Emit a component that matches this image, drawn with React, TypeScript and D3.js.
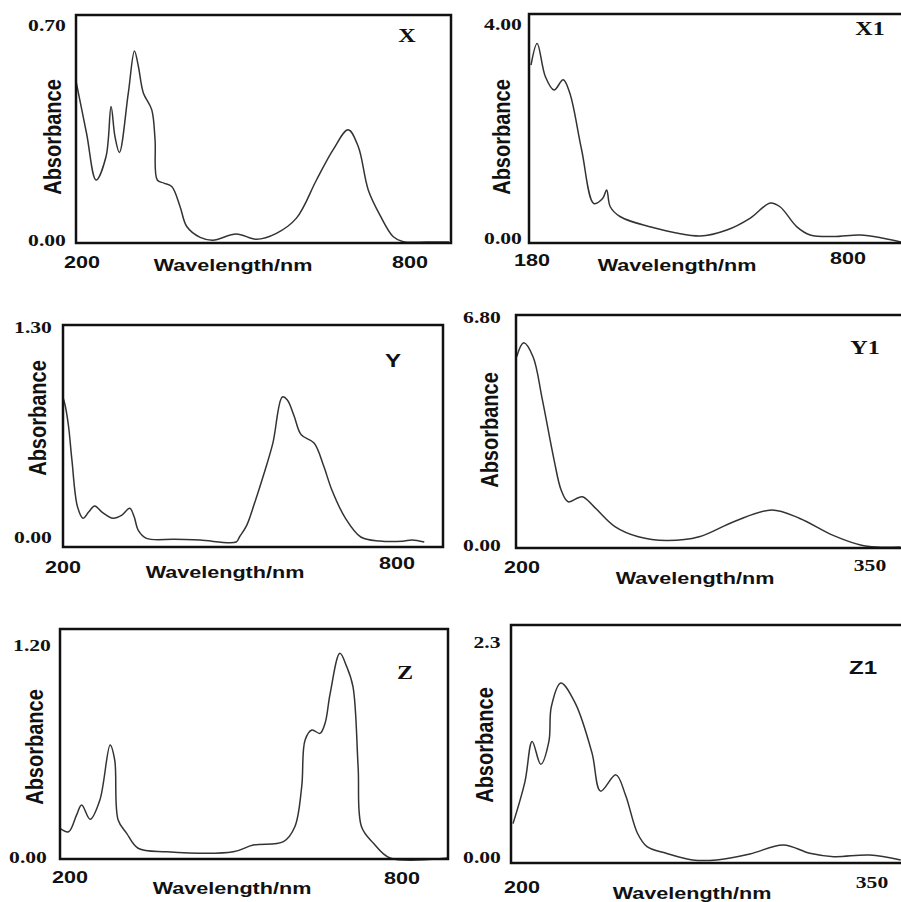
import React, { useEffect } from "react";
import * as d3 from "d3";

// ---------- data (wavelength in nm, absorbance) ----------
const xNm = [200, 219, 236, 254, 263, 270, 278, 294, 305, 312, 321, 336, 342, 346, 358, 372, 387, 399, 423, 446, 488, 524, 560, 596, 632, 662, 689, 707, 725, 746, 770, 788, 830, 870];
const xAbs = [0.519, 0.35, 0.2, 0.276, 0.437, 0.34, 0.289, 0.481, 0.616, 0.567, 0.481, 0.427, 0.33, 0.2, 0.19, 0.179, 0.114, 0.05, 0.015, 0.006, 0.026, 0.009, 0.028, 0.077, 0.2, 0.298, 0.362, 0.308, 0.168, 0.087, 0.017, 0.001, 0, 0];

const x1Nm = [180, 192, 208, 225, 243, 256, 279, 303, 320, 328, 335, 354, 413, 511, 563, 609, 648, 667, 700, 726, 772, 824, 869, 904];
const x1Abs = [3.26, 3.66, 3.05, 2.8, 2.99, 2.74, 1.7, 0.71, 0.8, 0.96, 0.65, 0.47, 0.28, 0.11, 0.22, 0.44, 0.72, 0.65, 0.28, 0.13, 0.1, 0.13, 0.07, 0.0];

const yNm = [200, 204, 210, 216, 226, 236, 246, 257, 270, 290, 305, 320, 328, 335, 350, 400, 446, 511, 517, 530, 544, 560, 577, 594, 603, 615, 628, 651, 668, 683, 707, 735, 769, 810, 827, 849];
const yAbs = [0.87, 0.82, 0.695, 0.494, 0.213, 0.143, 0.18, 0.217, 0.18, 0.143, 0.16, 0.203, 0.15, 0.072, 0.022, 0.016, 0.012, 0.0, 0.03, 0.1, 0.233, 0.4, 0.595, 0.873, 0.855, 0.76, 0.645, 0.596, 0.46, 0.313, 0.145, 0.03, 0.006, 0.005, 0.012, 0.0];

const y1Nm = [199, 202, 206, 210, 215, 218, 221, 227, 232, 241, 251, 263, 277, 292, 308, 320, 334, 346, 353, 363];
const y1Abs = [5.6, 6.01, 5.6, 4.33, 2.56, 1.68, 1.33, 1.48, 1.19, 0.6, 0.3, 0.19, 0.3, 0.75, 1.09, 0.84, 0.35, 0.06, 0, 0];

const zNm = [200, 215, 229, 238, 253, 270, 288, 296, 302, 317, 337, 387, 504, 539, 592, 612, 624, 630, 642, 656, 665, 674, 691, 703, 714, 723, 729, 750, 779, 881];
const zAbs = [0.167, 0.148, 0.242, 0.299, 0.218, 0.327, 0.637, 0.552, 0.214, 0.139, 0.055, 0.035, 0.035, 0.073, 0.092, 0.176, 0.4, 0.665, 0.721, 0.702, 0.759, 0.928, 1.153, 1.078, 0.965, 0.514, 0.176, 0.083, 0, 0];

const z1Nm = [200, 205, 208, 211.6, 215, 216, 220, 226, 233, 236.6, 243, 247, 252, 256, 264, 275, 285, 299, 313, 324, 334, 349, 362];
const z1Abs = [0.38, 0.82, 1.24, 1.0, 1.24, 1.6, 1.85, 1.64, 1.12, 0.72, 0.89, 0.68, 0.28, 0.14, 0.07, 0.0, 0.0, 0.063, 0.157, 0.07, 0.035, 0.052, 0.0];

// tick labels
const xTickLabels = ["200", "800"];
const x1TickLabels = ["180", "800"];
const yTickLabels = ["200", "800"];
const y1TickLabels = ["200", "350"];
const zTickLabels = ["200", "800"];
const z1TickLabels = ["200", "350"];
const xYTicks = ["0.00", "0.70"];
const x1YTicks = ["0.00", "4.00"];
const yYTicks = ["0.00", "1.30"];
const y1YTicks = ["0.00", "6.80"];
const zYTicks = ["0.00", "1.20"];
const z1YTicks = ["0.00", "2.3"];
const panelNames = ["X", "X1", "Y", "Y1", "Z", "Z1"];

const SANS = "'Liberation Sans', Arial, sans-serif";
const SERIF = "'Liberation Serif', 'Times New Roman', serif";
const SX = 1.27;

type Panel = {
  name: string;
  nameFont: string;
  nm: number[];
  abs: number[];
  xTicks: string[];
  yTicks: string[];
  xTickFonts: string[];
  frame: [number, number, number, number]; // left, top, right, bottom
  xDom: [number, number];
  xRange: [number, number];
  yDom: [number, number];
  yRange: [number, number];
  xTickPos: [number, number][]; // label centres
  yTickPos: [number, number][];
  namePos: [number, number];
  wlPos: [number, number];
  absPos: [number, number];
};

const panels: Panel[] = [
  {
    name: panelNames[0], nameFont: SERIF, nm: xNm, abs: xAbs, xTicks: xTickLabels, yTicks: xYTicks,
    xTickFonts: [SANS, SANS],
    frame: [76, 15, 451, 243], xDom: [200, 800], xRange: [76, 410], yDom: [0, 0.7], yRange: [242, 25],
    xTickPos: [[82, 262], [410, 262]], yTickPos: [[47, 240], [47, 25]], namePos: [407, 36],
    wlPos: [233, 265], absPos: [53, 137],
  },
  {
    name: panelNames[1], nameFont: SERIF, nm: x1Nm, abs: x1Abs, xTicks: x1TickLabels, yTicks: x1YTicks,
    xTickFonts: [SANS, SANS],
    frame: [529, 14, 906, 243], xDom: [180, 800], xRange: [531, 848], yDom: [0, 4], yRange: [242, 25],
    xTickPos: [[532, 260], [848, 258]], yTickPos: [[503, 238], [503, 24]], namePos: [870, 29],
    wlPos: [677, 265], absPos: [502, 137],
  },
  {
    name: panelNames[2], nameFont: SANS, nm: yNm, abs: yAbs, xTicks: yTickLabels, yTicks: yYTicks,
    xTickFonts: [SANS, SANS],
    frame: [63, 325, 443, 547], xDom: [200, 800], xRange: [63, 397], yDom: [0, 1.3], yRange: [542, 326],
    xTickPos: [[63, 567], [397, 563]], yTickPos: [[33, 537], [33, 327]], namePos: [393, 360],
    wlPos: [225, 572], absPos: [38, 418],
  },
  {
    name: panelNames[3], nameFont: SERIF, nm: y1Nm, abs: y1Abs, xTicks: y1TickLabels, yTicks: y1YTicks,
    xTickFonts: [SANS, SERIF],
    frame: [516, 315, 906, 548], xDom: [200, 350], xRange: [519, 870], yDom: [0, 6.8], yRange: [547, 316],
    xTickPos: [[522, 567], [870, 565]], yTickPos: [[482, 545], [482, 317]], namePos: [865, 348],
    wlPos: [695, 578], absPos: [490, 430],
  },
  {
    name: panelNames[4], nameFont: SERIF, nm: zNm, abs: zAbs, xTicks: zTickLabels, yTicks: zYTicks,
    xTickFonts: [SANS, SANS],
    frame: [60, 629, 448, 859], xDom: [200, 800], xRange: [60, 402], yDom: [0, 1.2], yRange: [858, 645],
    xTickPos: [[70, 877], [402, 878]], yTickPos: [[28, 857], [32, 645]], namePos: [405, 673],
    wlPos: [232, 888], absPos: [35, 747],
  },
  {
    name: panelNames[5], nameFont: SANS, nm: z1Nm, abs: z1Abs, xTicks: z1TickLabels, yTicks: z1YTicks,
    xTickFonts: [SANS, SERIF],
    frame: [511, 625, 906, 863], xDom: [200, 350], xRange: [513, 872], yDom: [0, 2.3], yRange: [860, 640],
    xTickPos: [[522, 887], [872, 882]], yTickPos: [[482, 857], [487, 642]], namePos: [863, 667],
    wlPos: [692, 893], absPos: [485, 745],
  },
];

function Label({ x, y, text, font, size, sx = SX, rotate = 0 }: { x: number; y: number; text: string; font: string; size: number; sx?: number; rotate?: number }) {
  return (
    <text
      transform={`translate(${x},${y}) scale(${sx},1)${rotate ? ` rotate(${rotate})` : ""}`}
      textAnchor="middle"
      dominantBaseline="central"
      fontFamily={font}
      fontWeight="bold"
      fontSize={size}
      fill="#111"
    >
      {text}
    </text>
  );
}

function PanelView({ p }: { p: Panel }) {
  const xs = d3.scaleLinear().domain(p.xDom).range(p.xRange);
  const ys = d3.scaleLinear().domain(p.yDom).range(p.yRange);
  const pts: [number, number][] = p.nm.map((n, i) => [n, p.abs[i]]);
  const line = d3
    .line<[number, number]>()
    .x((d) => xs(d[0]))
    .y((d) => ys(d[1]))
    .curve(d3.curveCatmullRom.alpha(0.5));
  const [l, t, r, b] = p.frame;
  return (
    <g>
      <path d={line(pts) || ""} fill="none" stroke="#333" strokeWidth={1.5} strokeLinejoin="round" />
      <rect x={l} y={t} width={r - l} height={b - t} fill="none" stroke="#111" strokeWidth={2.5} />
      {p.xTicks.map((s, i) => (
        <Label key={"xt" + i} x={p.xTickPos[i][0]} y={p.xTickPos[i][1]} text={s} font={p.xTickFonts[i]} size={17} />
      ))}
      {p.yTicks.map((s, i) => (
        <Label key={"yt" + i} x={p.yTickPos[i][0]} y={p.yTickPos[i][1]} text={s} font={SERIF} size={17} />
      ))}
      <Label x={p.wlPos[0]} y={p.wlPos[1]} text="Wavelength/nm" font={SANS} size={17} />
      <Label x={p.absPos[0]} y={p.absPos[1]} text="Absorbance" font={SANS} size={20} sx={1.15} rotate={-90} />
      <Label x={p.namePos[0]} y={p.namePos[1]} text={p.name} font={p.nameFont} size={19} />
    </g>
  );
}

export default function App() {
  useEffect(() => {
    document.body.style.margin = "0";
  }, []);
  return (
    <svg width={901} height={902} style={{ display: "block", background: "#fff" }}>
      <rect x={0} y={0} width={901} height={902} fill="#fff" />
      {panels.map((p) => (
        <PanelView key={p.name} p={p} />
      ))}
    </svg>
  );
}
